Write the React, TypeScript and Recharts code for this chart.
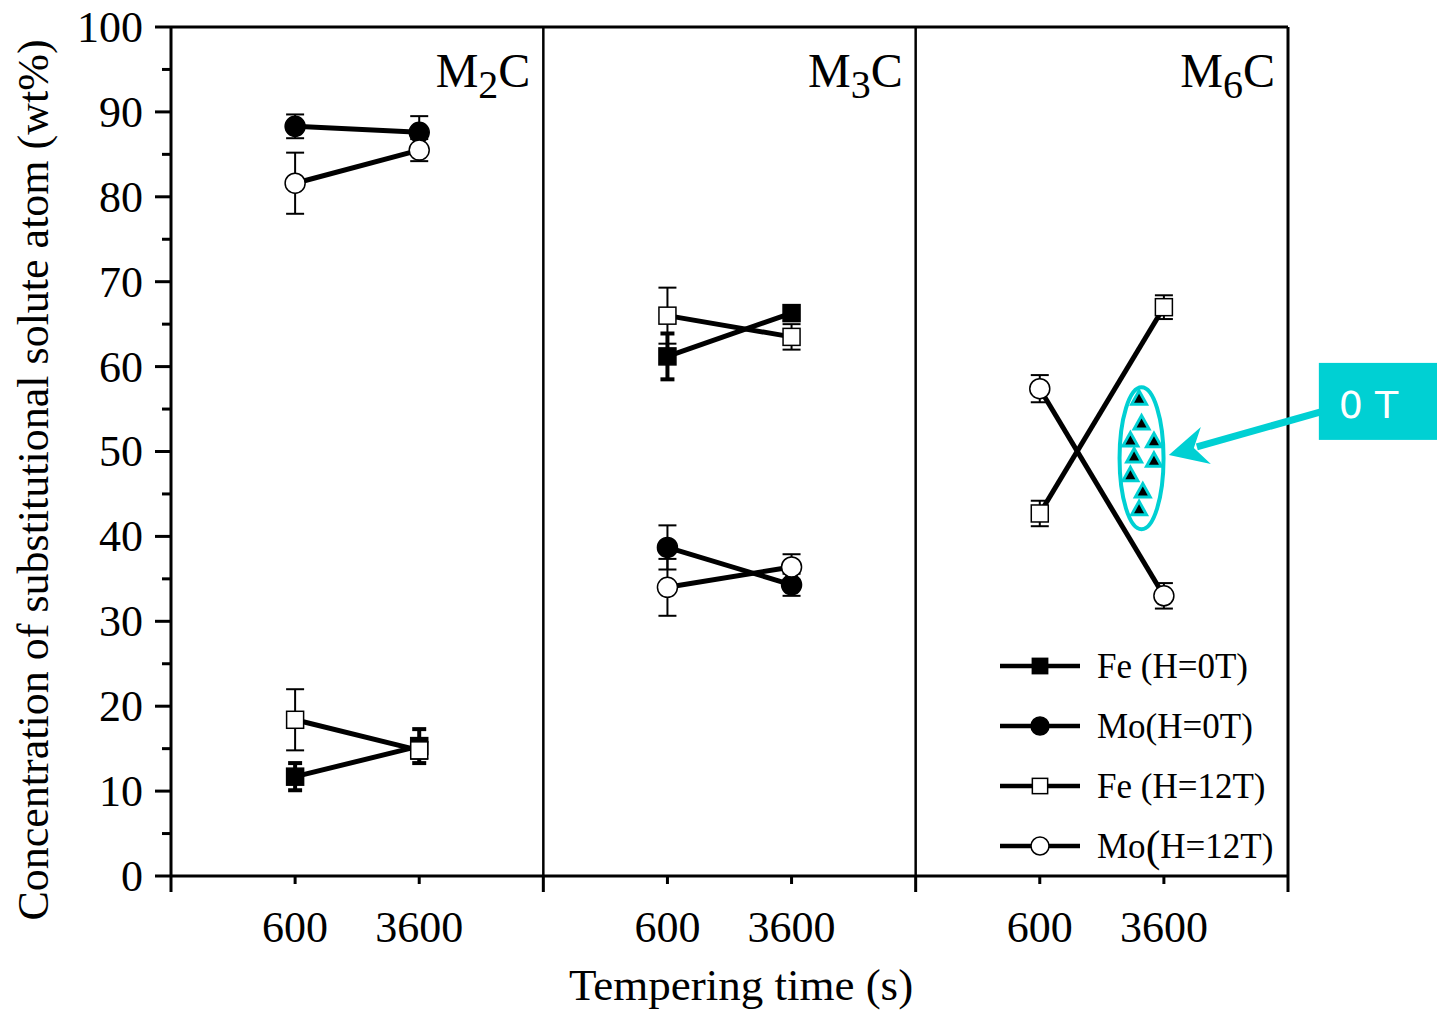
import React from 'react';
import { ComposedChart, Line, Scatter, XAxis, YAxis, ErrorBar, ReferenceLine, Legend } from 'recharts';

const W = 1437;
const H = 1011;
const PLOT = { left: 171, top: 27, right: 1288, bottom: 876 };
const CYAN = '#00D0D3';
const SERIF = '"Liberation Serif", "Times New Roman", serif';

// panels (carbide type) and the two tempering times inside each
const panelSubs = ['2', '3', '6'];
const timeLabels = ['600', '3600'];

// values per panel: [600 s, 3600 s]; M6C has no H=0T pair
const feH0 = [[11.7, 15.3], [61.2, 66.3]];
const feH0Err = [[1.6, 2.0], [2.7, 0.8]];
const moH0 = [[88.3, 87.6], [38.7, 34.3]];
const moH0Err = [[1.4, 1.9], [2.6, 1.3]];
const feH12 = [[18.4, 14.8], [66.0, 63.5], [42.7, 67.0]];
const feH12Err = [[3.6, 1.0], [3.3, 1.5], [1.5, 1.4]];
const moH12 = [[81.6, 85.5], [34.0, 36.4], [57.4, 33.0]];
const moH12Err = [[3.6, 1.3], [3.35, 1.5], [1.6, 1.5]];

// 0 T points circled in the M6C panel
const zeroTx = [7.80, 7.82, 7.73, 7.92, 7.76, 7.92, 7.73, 7.83, 7.80];
const zeroTy = [56.2, 53.3, 51.3, 51.2, 49.4, 48.9, 47.2, 45.3, 43.2];
const zeroTEllipse = [{ x: 7.82, y: 49.2 }];
const arrowTip = [{ x: 8.04, y: 49.6 }];

const yTicks = [0, 5, 10, 15, 20, 25, 30, 35, 40, 45, 50, 55, 60, 65, 70, 75, 80, 85, 90, 95, 100];
const xTicks = [0, 1, 2, 3, 4, 5, 6, 7, 8, 9];
const xTickLabels = ['', '600', '3600', '', '600', '3600', '', '600', '3600', ''];

const legendRows = [
    { label: 'Fe (H=0T)', marker: 'square', filled: true },
    { label: 'Mo(H=0T)', marker: 'circle', filled: true },
    { label: 'Fe (H=12T)', marker: 'square', filled: false },
    { label: 'Mo(H=12T)', marker: 'circle', filled: false, bigParen: true },
];

const series = [
    { key: 'feH0', vals: feH0, errs: feH0Err, marker: 'square', filled: true, errWidth: 7, errStroke: 4 },
    { key: 'moH0', vals: moH0, errs: moH0Err, marker: 'circle', filled: true, errWidth: 9, errStroke: 2 },
    { key: 'feH12', vals: feH12, errs: feH12Err, marker: 'square', filled: false, errWidth: 9, errStroke: 2 },
    { key: 'moH12', vals: moH12, errs: moH12Err, marker: 'circle', filled: false, errWidth: 9, errStroke: 2 },
];

const toPoints = (vals: number[], errs: number[], panel: number) =>
    vals.map((v, i) => ({ x: panel * 3 + 1 + i, y: v, err: errs[i] }));

const Marker = ({ cx, cy, marker, filled, size = 1 }: any) => {
    const fill = filled ? '#000' : '#fff';
    if (marker === 'square') {
        const s = 17 * size;
        return <rect x={cx - s / 2} y={cy - s / 2} width={s} height={s} fill={fill} stroke="#000" strokeWidth={1.5} />;
    }
    return <circle cx={cx} cy={cy} r={10 * size} fill={fill} stroke="#000" strokeWidth={1.5} />;
};

const makeDot = (marker: string, filled: boolean) => (props: any) => {
    const { cx, cy, index } = props;
    if (cx == null || cy == null) return <g key={index} />;
    return <g key={index}><Marker cx={cx} cy={cy} marker={marker} filled={filled} /></g>;
};

const XTick = (props: any) => {
    const { x, y, payload } = props;
    const v = payload.value;
    const boundary = v % 3 === 0;
    const label = xTickLabels[v];
    return (
        <g>
            <line x1={x} x2={x} y1={y} y2={y + (boundary ? 16 : 8)} stroke="#000" strokeWidth={3} />
            {label && (
                <text x={x} y={y + 66} textAnchor="middle" fontFamily={SERIF} fontSize={44} fill="#000">{label}</text>
            )}
        </g>
    );
};

const YTick = (props: any) => {
    const { x, y, payload } = props;
    const v = payload.value;
    const major = v % 10 === 0;
    return (
        <g>
            <line x1={x} x2={x - (major ? 16 : 9)} y1={y} y2={y} stroke="#000" strokeWidth={3} />
            {major && (
                <text x={x - 28} y={y} dy="0.34em" textAnchor="end" fontFamily={SERIF} fontSize={44} fill="#000">{v}</text>
            )}
        </g>
    );
};

const EllipseShape = ({ cx, cy }: any) => (
    <ellipse cx={cx} cy={cy} rx={22} ry={71} fill="none" stroke={CYAN} strokeWidth={4} />
);

const TriangleShape = ({ cx, cy }: any) => (
    <g>
        <polygon points={`${cx},${cy - 11} ${cx - 10},${cy + 7} ${cx + 10},${cy + 7}`} fill={CYAN} />
        <polygon points={`${cx},${cy - 5} ${cx - 5},${cy + 4} ${cx + 5},${cy + 4}`} fill="#000" />
    </g>
);

const ArrowShape = ({ cx, cy }: any) => (
    <g transform={`translate(${cx},${cy})`}>
        <line x1={28} y1={-8} x2={152} y2={-43} stroke={CYAN} strokeWidth={7} />
        <polygon points="0,0 32,-28 25,-7 42,9" fill={CYAN} />
        <rect x={150} y={-92} width={130} height={77} fill={CYAN} />
        <text x={170} y={-37} fontFamily='"DejaVu Sans", sans-serif' fontSize={38} fill="#fff">0 T</text>
    </g>
);

const LegendBox = () => (
    <svg width={300} height={250} style={{ overflow: 'visible' }}>
        {legendRows.map((r, i) => {
            const cy = 26 + i * 60;
            return (
                <g key={r.label}>
                    <line x1={5} x2={85} y1={cy} y2={cy} stroke="#000" strokeWidth={4.5} />
                    <Marker cx={45} cy={cy} marker={r.marker} filled={r.filled} size={0.9} />
                    <text x={102} y={cy + 12} fontFamily={SERIF} fontSize={35} fill="#000">
                        {r.bigParen ? (
                            <>Mo<tspan fontSize={44} dy={3}>(</tspan><tspan dy={-3}>H=12T)</tspan></>
                        ) : r.label}
                    </text>
                </g>
            );
        })}
    </svg>
);

export default function App() {
    const panelW = (PLOT.right - PLOT.left) / 3;
    return (
        <div style={{ position: 'absolute', left: 0, top: 0, width: W, height: H, background: '#fff' }}>
            <ComposedChart
                width={W}
                height={H}
                margin={{ top: PLOT.top, right: W - PLOT.right, left: PLOT.left - 100, bottom: H - PLOT.bottom - 60 }}
            >
                <XAxis
                    type="number"
                    dataKey="x"
                    domain={[0, 9]}
                    ticks={xTicks}
                    interval={0}
                    height={60}
                    tickSize={0}
                    tickMargin={0}
                    tickLine={false}
                    axisLine={{ stroke: '#000', strokeWidth: 3 }}
                    tick={(p: any) => <XTick {...p} />}
                />
                <YAxis
                    type="number"
                    domain={[0, 100]}
                    ticks={yTicks}
                    interval={0}
                    width={100}
                    tickSize={0}
                    tickMargin={0}
                    tickLine={false}
                    axisLine={{ stroke: '#000', strokeWidth: 3 }}
                    tick={(p: any) => <YTick {...p} />}
                />
                <ReferenceLine y={100} stroke="#000" strokeWidth={3} />
                <ReferenceLine x={3} stroke="#000" strokeWidth={2.5} />
                <ReferenceLine x={6} stroke="#000" strokeWidth={2.5} />
                <ReferenceLine x={9} stroke="#000" strokeWidth={3} />
                <Legend
                    layout="vertical"
                    align="center"
                    verticalAlign="middle"
                    wrapperStyle={{ left: 995, top: 640, width: 300, height: 250 }}
                    content={() => <LegendBox />}
                />
                {series.flatMap(s =>
                    s.vals.map((vals, p) => (
                        <Line
                            key={`${s.key}-${p}`}
                            data={toPoints(vals, s.errs[p], p)}
                            dataKey="y"
                            type="linear"
                            stroke="#000"
                            strokeWidth={5}
                            dot={makeDot(s.marker, s.filled)}
                            activeDot={false}
                            legendType="none"
                            isAnimationActive={false}
                        >
                            <ErrorBar dataKey="err" direction="y" width={s.errWidth} strokeWidth={s.errStroke} stroke="#000" />
                        </Line>
                    ))
                )}
                <Scatter data={zeroTEllipse} dataKey="y" shape={(p: any) => <EllipseShape {...p} />} legendType="none" isAnimationActive={false} />
                <Scatter
                    data={zeroTx.map((x, i) => ({ x, y: zeroTy[i] }))}
                    dataKey="y"
                    shape={(p: any) => <TriangleShape {...p} />}
                    legendType="none"
                    isAnimationActive={false}
                />
                <Scatter data={arrowTip} dataKey="y" shape={(p: any) => <ArrowShape {...p} />} legendType="none" isAnimationActive={false} />
            </ComposedChart>
            <svg width={W} height={H} style={{ position: 'absolute', left: 0, top: 0, pointerEvents: 'none' }}>
                {panelSubs.map((sub, p) => (
                    <text key={sub} x={PLOT.left + (p + 1) * panelW - 13} y={87} textAnchor="end" fontFamily={SERIF} fontSize={48} fill="#000">
                        M<tspan fontSize={40} dy={11}>{sub}</tspan><tspan dy={-11}>C</tspan>
                    </text>
                ))}
                <text x={741} y={1000} textAnchor="middle" fontFamily={SERIF} fontSize={45} fill="#000">Tempering time (s)</text>
                <text x={48} y={480} transform="rotate(-90, 48, 480)" textAnchor="middle" fontFamily={SERIF} fontSize={44} fill="#000">
                    Concentration of substitutional solute atom (wt%)
                </text>
            </svg>
        </div>
    );
}
